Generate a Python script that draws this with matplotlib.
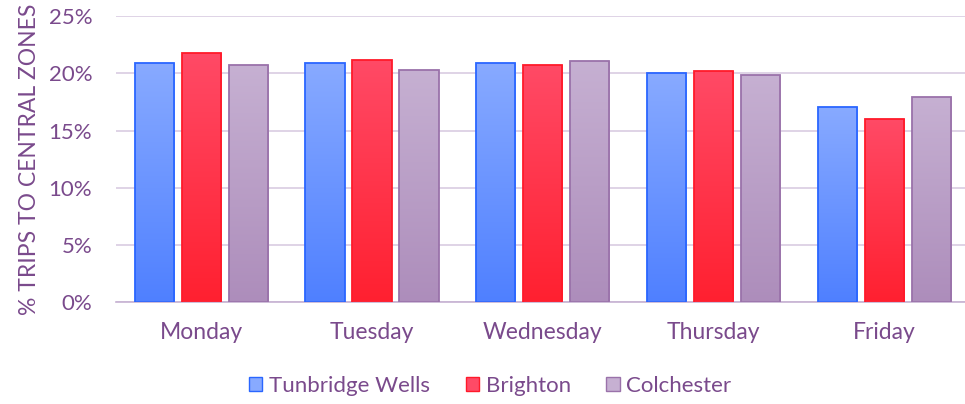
import numpy as np
import matplotlib.pyplot as plt
from matplotlib.colors import LinearSegmentedColormap
from matplotlib.patches import Patch

days = ["Monday", "Tuesday", "Wednesday", "Thursday", "Friday"]
tunbridge_wells = [20.9, 20.9, 20.9, 20.0, 17.1]
brighton = [21.8, 21.2, 20.7, 20.2, 16.0]
colchester = [20.7, 20.3, 21.1, 19.9, 17.9]

series = [
    ("Tunbridge Wells", tunbridge_wells, "#88aaff", "#4f80ff", "#2a66ff"),
    ("Brighton", brighton, "#ff4a66", "#ff2030", "#ff1a2a"),
    ("Colchester", colchester, "#c6b0d2", "#ad8dbb", "#9a72aa"),
]

text_col = "#7a4a8c"
plt.rcParams["font.family"] = ["Lato", "DejaVu Sans"]

fig = plt.figure(figsize=(9.65, 4.04), dpi=100)
ax = fig.add_axes([0.12, 0.252, 0.885, 0.708])

x = np.arange(len(days))
width = 0.23
step = 0.275

handles = []
for i, (name, vals, top, bottom, edge) in enumerate(series):
    bars = ax.bar(x + (i - 1) * step, vals, width, facecolor="none",
                  edgecolor=edge, linewidth=1.3, zorder=3)
    cmap = LinearSegmentedColormap.from_list(name, [bottom, top])
    for b in bars:
        x0, y0 = b.get_x(), b.get_y()
        w, h = b.get_width(), b.get_height()
        grad = np.linspace(0, 1, 256).reshape(-1, 1)
        im = ax.imshow(grad, cmap=cmap, origin="lower", aspect="auto",
                       extent=[x0, x0 + w, y0, y0 + h], zorder=2)
        im.set_clip_path(b)
    handles.append(Patch(facecolor=top, edgecolor=edge, label=name))

ax.set_xlim(-0.5, 4.5)
ax.set_ylim(0, 25)
ax.set_yticks(np.arange(0, 26, 5))
ax.set_yticklabels([f"{v}%" for v in range(0, 26, 5)])
ax.set_xticks(x)
ax.set_xticklabels(days)
ax.grid(axis="y", color="#d9cce2", linewidth=1.2, zorder=0)
ax.set_axisbelow(True)
for s in ["top", "right", "left"]:
    ax.spines[s].set_visible(False)
ax.spines["bottom"].set_color("#c6b2d2")
ax.spines["bottom"].set_linewidth(1.2)
ax.tick_params(axis="both", length=0, colors=text_col)
ax.tick_params(axis="y", pad=17, labelsize=16)
ax.tick_params(axis="x", pad=14, labelsize=16.5)
ax.set_ylabel("% TRIPS TO CENTRAL ZONES", color=text_col, fontsize=16.5, labelpad=6)

fig.legend(handles=handles, loc="center", bbox_to_anchor=(0.508, 0.045), ncol=3,
           frameon=False, fontsize=16, labelcolor=text_col, handlelength=0.6,
           handleheight=0.6, handletextpad=0.3, columnspacing=1.6)

fig.savefig("out.png", dpi=100)
